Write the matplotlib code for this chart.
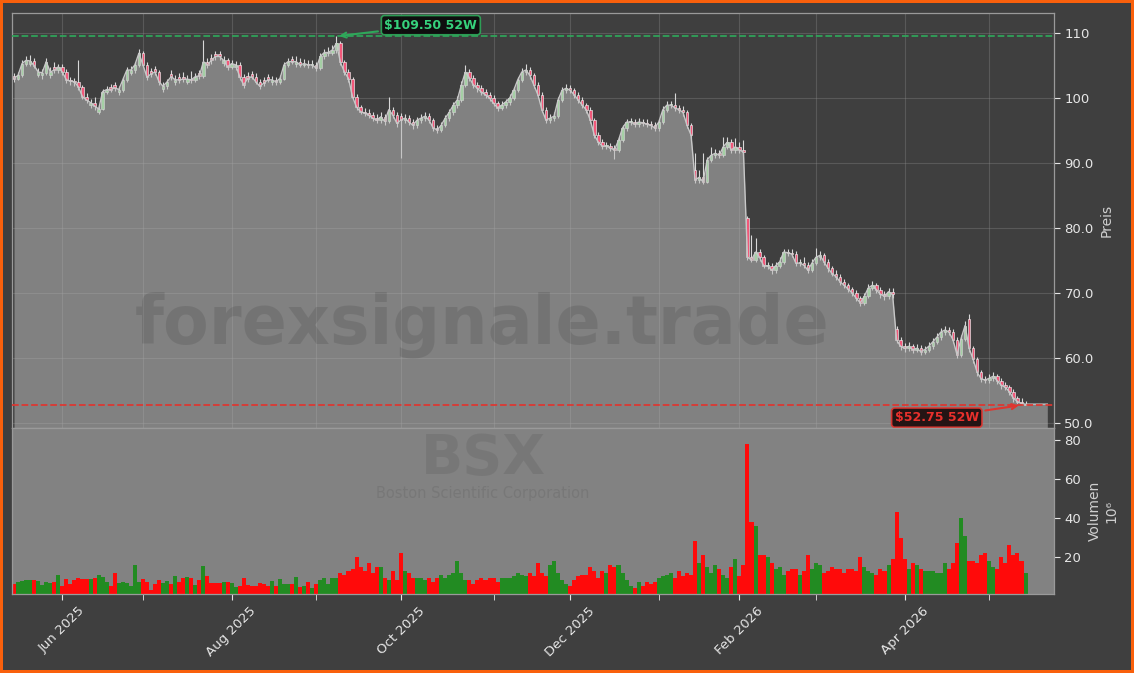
import numpy as np
import pandas as pd
import matplotlib
matplotlib.use("Agg")
import matplotlib.pyplot as plt

# ---------------- data ----------------
start_date = "2025-05-14"
end_date = "2026-05-14"
market_holidays = ["2025-05-26", "2025-06-19", "2025-07-04", "2025-09-01", "2025-11-27",
                   "2025-12-25", "2026-01-01", "2026-01-19", "2026-02-16", "2026-04-03"]

close = [
    103.0, 103.5, 105.3, 105.8, 105.7, 105.0, 104.0, 103.9, 105.6, 104.0,
    104.3, 104.8, 104.0, 102.8, 102.6, 102.5, 101.7, 100.2, 99.7, 99.3,
    98.8, 98.3, 101.0, 101.3, 101.3, 101.6, 101.3, 102.8, 104.3, 104.3,
    105.1, 106.9, 105.1, 103.2, 103.7, 104.0, 102.5, 101.8, 102.5, 103.3,
    102.8, 102.8, 102.9, 102.9, 102.8, 103.3, 103.4, 105.6, 105.1, 105.8,
    106.4, 106.4, 105.8, 104.8, 105.3, 105.1, 103.3, 102.0, 103.0, 103.3,
    102.5, 101.8, 102.3, 102.8, 102.8, 102.5, 103.0, 105.1, 105.6, 105.6,
    105.6, 105.1, 105.3, 105.1, 105.1, 104.6, 106.4, 107.0, 107.0, 107.4,
    108.4, 105.5, 104.0, 103.0, 100.2, 98.6, 97.9, 97.7, 97.4, 96.9,
    96.6, 97.1, 96.4, 98.2, 97.4, 96.1, 96.6, 96.9, 96.3, 95.8,
    96.6, 96.9, 97.2, 96.6, 95.4, 95.1, 95.8, 96.9, 97.8, 98.9,
    99.7, 102.0, 104.0, 103.1, 102.0, 101.5, 100.9, 100.5, 100.0, 99.2,
    98.5, 98.9, 99.4, 100.0, 101.2, 102.8, 104.0, 104.3, 103.5, 102.0,
    100.5, 98.2, 96.6, 96.9, 97.2, 99.7, 101.2, 101.5, 101.2, 100.5,
    99.7, 98.9, 98.2, 96.6, 94.3, 93.2, 92.6, 92.6, 92.3, 92.0,
    93.5, 95.4, 96.3, 96.3, 96.0, 96.3, 96.2, 96.0, 95.8, 95.4,
    96.3, 98.2, 98.9, 98.9, 98.5, 98.2, 97.8, 95.8, 94.3, 87.4,
    87.8, 87.1, 90.5, 91.2, 91.5, 91.2, 92.5, 93.2, 92.0, 92.5,
    92.0, 91.7, 75.5, 75.1, 76.3, 75.5, 74.2, 74.2, 73.5, 74.2,
    74.8, 76.3, 76.2, 76.0, 74.6, 74.6, 74.3, 73.5, 74.6, 75.5,
    75.8, 74.8, 73.8, 73.0, 72.5, 71.7, 71.2, 70.6, 70.0, 69.2,
    68.5, 69.5, 70.8, 71.2, 70.5, 69.8, 69.5, 70.2, 69.8, 62.8,
    61.8, 61.5, 61.8, 61.3, 61.5, 61.0, 61.3, 61.8, 62.5, 63.2,
    64.0, 64.3, 64.0, 62.8, 60.5, 63.0, 65.0, 61.5, 59.8, 57.8,
    56.8, 56.6, 56.9, 57.2, 56.5, 55.8, 55.5, 54.8, 53.8, 53.3,
    53.0, 52.9,
]

open_ = [
    103.4, 103.0, 103.5, 105.3, 105.3, 105.7, 103.6, 103.5, 103.9, 103.6,
    104.7, 104.3, 104.8, 104.0, 102.8, 102.6, 102.5, 101.7, 100.2, 98.9,
    99.3, 97.9, 98.3, 101.0, 101.7, 102.0, 100.9, 101.3, 102.8, 103.9,
    104.3, 105.1, 106.9, 105.1, 104.1, 104.4, 104.0, 101.4, 101.8, 103.7,
    102.4, 103.2, 103.3, 102.5, 102.9, 102.8, 103.8, 103.4, 105.6, 106.2,
    106.8, 106.8, 105.4, 105.8, 104.8, 104.7, 105.1, 103.3, 103.4, 103.7,
    103.3, 102.5, 102.7, 103.2, 102.4, 102.8, 102.5, 103.0, 105.1, 106.0,
    105.2, 105.6, 105.1, 105.3, 105.1, 105.1, 104.6, 106.4, 107.0, 107.0,
    107.4, 108.4, 105.5, 104.0, 103.0, 100.2, 98.6, 97.9, 97.7, 97.4,
    96.9, 96.6, 97.1, 96.4, 98.2, 97.4, 97.2, 96.6, 96.9, 96.3,
    95.8, 96.6, 96.9, 97.2, 96.6, 95.4, 95.1, 95.8, 96.9, 97.8,
    98.9, 99.7, 102.0, 104.0, 103.1, 102.0, 101.5, 100.9, 100.5, 100.0,
    99.2, 98.5, 98.9, 99.4, 100.0, 101.2, 102.8, 104.0, 104.3, 103.5,
    102.0, 100.5, 98.2, 96.6, 96.9, 97.2, 99.7, 101.2, 101.5, 101.2,
    100.5, 99.7, 98.9, 98.2, 96.6, 94.3, 93.2, 92.6, 92.6, 92.3,
    92.0, 93.5, 95.4, 96.3, 96.3, 96.0, 96.3, 96.2, 96.0, 95.8,
    95.4, 96.3, 98.2, 98.9, 98.9, 98.5, 98.2, 97.8, 95.8, 89.0,
    87.4, 87.8, 87.1, 90.5, 91.2, 91.5, 91.2, 92.5, 93.2, 92.0,
    92.5, 92.0, 81.5, 75.5, 75.1, 76.3, 75.5, 74.2, 74.2, 73.5,
    74.2, 74.8, 76.3, 76.2, 76.0, 74.6, 74.6, 74.3, 73.5, 74.6,
    75.5, 75.8, 74.8, 73.8, 73.0, 72.5, 71.7, 71.2, 70.6, 70.0,
    69.2, 68.5, 69.5, 70.8, 71.2, 70.5, 69.8, 69.5, 70.2, 64.5,
    62.8, 61.8, 61.5, 61.8, 61.3, 61.5, 61.0, 61.3, 61.8, 62.5,
    63.2, 64.0, 64.3, 64.0, 62.8, 60.5, 63.0, 66.0, 61.5, 59.8,
    57.8, 56.8, 56.6, 56.9, 57.2, 56.5, 55.8, 55.5, 54.8, 53.8,
    53.3, 52.8,
]

high = [
    103.9, 104.0, 105.8, 106.4, 106.6, 106.1, 104.6, 104.4, 106.2, 104.8,
    105.5, 105.3, 105.2, 104.4, 103.3, 103.1, 105.8, 102.0, 100.8, 99.9,
    100.1, 98.9, 101.4, 101.9, 102.2, 102.5, 101.8, 103.2, 104.7, 104.9,
    105.6, 107.5, 107.3, 105.5, 104.6, 104.9, 104.3, 102.5, 103.0, 104.3,
    103.5, 103.8, 104.0, 103.6, 104.2, 103.9, 104.3, 109.0, 106.2, 106.8,
    107.3, 107.2, 106.4, 106.2, 105.9, 105.7, 105.5, 103.7, 104.0, 104.2,
    103.8, 103.0, 103.2, 103.7, 103.4, 103.3, 103.6, 105.6, 106.2, 106.5,
    106.4, 106.2, 106.0, 105.9, 105.8, 105.6, 106.9, 107.6, 107.8, 108.2,
    109.5, 108.8, 105.9, 104.4, 103.3, 100.6, 99.0, 98.5, 98.3, 97.9,
    97.5, 97.8, 97.6, 100.2, 98.6, 97.8, 97.7, 97.5, 97.4, 96.8,
    97.1, 97.5, 97.8, 97.7, 97.0, 95.9, 96.3, 97.4, 98.3, 99.4,
    100.3, 102.6, 105.1, 104.5, 103.5, 102.5, 102.0, 101.4, 101.0, 100.4,
    99.6, 99.5, 99.9, 100.6, 101.7, 103.3, 104.6, 105.3, 104.8, 103.9,
    102.4, 100.9, 98.6, 97.5, 97.8, 100.2, 101.7, 102.1, 102.0, 101.6,
    100.9, 100.1, 99.3, 98.6, 97.0, 94.7, 93.7, 93.2, 93.1, 92.8,
    94.0, 95.9, 96.8, 96.9, 96.8, 96.9, 96.8, 96.7, 96.5, 96.3,
    96.8, 98.7, 99.5, 99.6, 100.8, 99.0, 98.7, 98.2, 96.2, 91.5,
    89.0, 91.5, 91.0, 92.5, 92.2, 92.0, 94.0, 94.0, 93.7, 93.8,
    93.2, 93.5, 81.9, 79.0, 78.5, 76.8, 75.9, 74.8, 74.6, 74.7,
    75.6, 76.8, 76.8, 76.7, 76.4, 75.3, 75.6, 74.7, 75.2, 76.9,
    76.5, 76.2, 75.2, 74.2, 73.5, 72.9, 72.2, 71.6, 71.0, 70.4,
    69.6, 70.0, 71.4, 71.8, 71.6, 70.9, 70.3, 70.8, 70.7, 65.0,
    63.2, 62.3, 62.4, 62.2, 62.1, 62.0, 61.9, 62.4, 63.1, 63.8,
    64.6, 65.0, 64.8, 64.4, 63.2, 63.6, 65.7, 66.8, 61.9, 60.2,
    58.2, 57.3, 57.5, 57.8, 57.6, 56.9, 56.3, 55.9, 55.2, 54.2,
    53.8, 53.4,
]

low = [
    102.5, 102.7, 103.2, 105.0, 104.9, 104.6, 103.2, 103.0, 103.6, 103.1,
    103.8, 103.9, 103.5, 102.3, 102.0, 101.9, 101.2, 99.8, 99.2, 98.5,
    98.2, 97.6, 98.1, 100.6, 100.9, 101.1, 100.5, 101.0, 102.5, 103.5,
    103.9, 104.8, 104.7, 102.8, 103.2, 103.5, 102.0, 101.0, 101.4, 102.8,
    102.0, 102.3, 102.4, 102.1, 102.3, 102.4, 103.0, 103.1, 104.6, 105.3,
    105.9, 105.9, 105.0, 104.3, 104.4, 104.3, 102.8, 101.6, 102.5, 102.9,
    102.1, 101.4, 101.9, 102.4, 102.0, 102.0, 102.1, 102.7, 104.8, 105.2,
    104.8, 104.7, 104.8, 104.6, 104.6, 104.1, 104.3, 106.0, 106.5, 106.6,
    107.0, 105.1, 103.6, 102.5, 99.8, 98.2, 97.5, 97.2, 96.9, 96.4,
    96.1, 96.2, 95.9, 96.1, 96.9, 95.6, 90.7, 96.2, 95.8, 95.3,
    95.4, 96.2, 96.5, 96.1, 95.0, 94.6, 94.8, 95.5, 96.5, 97.4,
    98.5, 99.4, 101.7, 102.6, 101.5, 101.0, 100.4, 100.0, 99.5, 98.7,
    98.0, 98.1, 98.5, 99.0, 99.7, 100.9, 102.5, 103.6, 103.0, 101.6,
    100.0, 97.8, 96.1, 96.2, 96.5, 96.9, 99.4, 100.8, 100.7, 100.0,
    99.2, 98.4, 97.7, 96.1, 93.9, 92.8, 92.1, 92.1, 91.8, 90.6,
    91.7, 93.2, 95.0, 95.8, 95.5, 95.6, 95.7, 95.5, 95.3, 94.9,
    95.0, 96.0, 97.8, 98.4, 98.0, 97.7, 97.3, 95.4, 93.9, 87.0,
    87.0, 86.8, 86.9, 90.1, 90.8, 90.7, 90.9, 92.1, 91.6, 91.6,
    91.5, 91.2, 75.1, 74.8, 74.8, 75.0, 73.8, 73.7, 73.0, 73.1,
    73.9, 74.5, 75.7, 75.5, 74.2, 74.1, 73.8, 73.1, 73.2, 74.3,
    75.1, 74.3, 73.3, 72.6, 72.0, 71.3, 70.7, 70.2, 69.6, 68.8,
    68.0, 68.2, 69.2, 70.4, 70.0, 69.3, 69.0, 69.1, 69.3, 62.3,
    61.3, 61.0, 61.1, 60.8, 60.9, 60.5, 60.6, 60.9, 61.4, 62.1,
    62.8, 63.6, 63.5, 62.3, 60.0, 60.2, 62.6, 61.0, 59.3, 57.3,
    56.3, 56.1, 56.2, 56.5, 56.0, 55.3, 55.0, 54.3, 53.3, 52.9,
    52.75, 52.8,
]

volume_m = [
    6.2, 7.0, 7.5, 8.0, 8.0, 8.0, 7.5, 5.8, 7.0, 6.6,
    7.0, 10.8, 5.1, 8.7, 6.2, 8.2, 9.1, 8.7, 8.7, 8.7,
    9.1, 10.8, 9.6, 7.0, 5.3, 11.6, 6.4, 7.0, 6.4, 5.3,
    15.9, 7.0, 8.7, 7.0, 3.1, 6.2, 8.2, 6.4, 7.5, 6.2,
    10.3, 7.3, 9.1, 9.9, 9.1, 5.6, 8.2, 15.4, 10.3, 6.4,
    6.8, 6.8, 7.0, 7.0, 6.4, 4.7, 5.1, 9.1, 5.6, 5.3,
    5.1, 6.4, 6.2, 5.3, 7.5, 5.3, 8.5, 6.2, 6.2, 6.2,
    9.6, 4.4, 5.0, 7.0, 4.0, 6.0, 8.0, 9.0, 6.0, 9.0,
    9.0, 12.0, 11.0, 13.0, 14.0, 20.0, 15.0, 13.0, 17.0, 12.0,
    15.0, 15.0, 9.0, 8.0, 13.0, 8.0, 22.0, 13.0, 12.0, 9.0,
    9.0, 9.0, 8.0, 9.0, 7.0, 9.0, 11.0, 9.0, 11.0, 12.0,
    18.0, 12.0, 8.0, 8.0, 6.0, 8.0, 9.0, 8.0, 9.0, 9.0,
    7.0, 9.0, 9.0, 9.0, 10.0, 12.0, 11.0, 10.0, 12.0, 10.0,
    17.0, 12.0, 10.0, 16.0, 18.0, 12.0, 8.0, 6.0, 5.0, 8.0,
    10.0, 11.0, 11.0, 15.0, 13.0, 9.0, 13.0, 12.0, 16.0, 15.0,
    16.0, 12.0, 8.0, 5.0, 4.0, 7.0, 5.0, 7.0, 6.0, 7.0,
    9.0, 10.0, 11.0, 12.0, 9.0, 13.0, 10.0, 12.0, 11.0, 28.0,
    17.0, 21.0, 15.0, 12.0, 16.0, 14.0, 11.0, 9.0, 15.0, 19.0,
    10.0, 16.0, 78.0, 38.0, 36.0, 21.0, 21.0, 20.0, 17.0, 14.0,
    15.0, 11.0, 13.0, 14.0, 14.0, 11.0, 13.0, 21.0, 14.0, 17.0,
    16.0, 12.0, 13.0, 15.0, 14.0, 14.0, 12.0, 14.0, 14.0, 13.0,
    20.0, 15.0, 13.0, 12.0, 11.0, 14.0, 13.0, 16.0, 19.0, 43.0,
    30.0, 19.0, 14.0, 17.0, 16.0, 14.0, 13.0, 13.0, 13.0, 12.0,
    12.0, 17.0, 14.0, 17.0, 27.0, 40.0, 31.0, 18.0, 18.0, 17.0,
    21.0, 22.0, 18.0, 15.0, 14.0, 20.0, 17.0, 26.0, 21.0, 22.0,
    18.0, 12.0,
]

price_ticks = [50, 60, 70, 80, 90, 100, 110]
price_tick_labels = ["50.0", "60.0", "70.0", "80.0", "90.0", "100", "110"]
volume_ticks = [20, 40, 60, 80]
ticker_symbol = "BSX"
company_name = "Boston Scientific Corporation"
watermark_text = "forexsignale.trade"

# ---------------- style / layout ----------------
BG = "#3f3f3f"
BORDER = "#f9600c"
PRICE_YLIM = (49.23, 113.08)
VOL_YLIM = (1.0, 86.2)
XLIM = (-0.37, 258.06)
FILL_PAD = 5.4

dates = pd.bdate_range(start_date, end_date, freq="C", holidays=market_holidays)
n = min(len(dates), len(close))
dates = dates[:n]
o = np.array(open_[:n]); h = np.array(high[:n]); l = np.array(low[:n])
c = np.array(close[:n]); v = np.array(volume_m[:n])
x = np.arange(n)
up = c >= o

fig = plt.figure(figsize=(11.34, 6.73), dpi=100, facecolor=BG,
                 edgecolor=BORDER, linewidth=4)
ax = fig.add_axes([0.01102, 0.36404, 0.91843, 0.61664])
axv = fig.add_axes([0.01102, 0.11738, 0.91843, 0.24666], sharex=ax)
ax.set_facecolor(BG)
axv.set_facecolor("#828282")

# month ticks
month_idx = [i for i in range(1, n) if dates[i].month != dates[i - 1].month]
major_idx = [i for i in month_idx if dates[i].month % 2 == 0]
minor_idx = [i for i in month_idx if dates[i].month % 2 == 1]
major_labels = [dates[i].strftime("%b %Y") for i in major_idx]

# candles
ax.vlines(x, l, h, color="#d8d8d8", lw=0.8, zorder=2)
body_bottom = np.minimum(o, c)
body_h = np.maximum(np.abs(c - o), 0.15)
ax.bar(x, body_h, bottom=body_bottom, width=0.62,
       color=np.where(up, "#90ee90", "#f2587a"), edgecolor="#f0f0f0",
       linewidth=0.45, zorder=2.1)

# area under closes
x_fill = np.append(x, x[-1] + FILL_PAD)
y_fill = np.append(c, c[-1])
ax.fill_between(x_fill, y_fill, PRICE_YLIM[0], color="#b8b8b8", alpha=0.55,
                lw=0, zorder=3)
ax.plot(x_fill, y_fill, color="#c8c8c8", lw=1.0, zorder=3.5)

# 52W lines & annotations
hi_i = int(np.argmax(h)); hi_v = h[hi_i]
lo_i = int(np.argmin(l)); lo_v = l[lo_i]
ax.axhline(hi_v, color="#2ea85a", ls="--", lw=1.3, alpha=0.95, zorder=4)
ax.axhline(lo_v, color="#e0352f", ls="--", lw=1.3, alpha=0.95, zorder=4)
ax.annotate(r"\$%.2f 52W" % hi_v, xy=(hi_i, hi_v), xytext=(68, 8),
            textcoords="offset points", ha="center", va="center",
            fontsize=9, fontweight="bold", color="#36d27c",
            bbox=dict(boxstyle="round,pad=0.25", fc="#0b0b0b", ec="#2ea85a", lw=1.2, alpha=0.92),
            arrowprops=dict(arrowstyle="->", color="#2ea85a", lw=1.5), zorder=6)
ax.annotate(r"\$%.2f 52W" % lo_v, xy=(lo_i, lo_v), xytext=(-61, -9),
            textcoords="offset points", ha="center", va="center",
            fontsize=9, fontweight="bold", color="#e8302c",
            bbox=dict(boxstyle="round,pad=0.25", fc="#1c0b0b", ec="#e0352f", lw=1.2, alpha=0.92),
            arrowprops=dict(arrowstyle="->", color="#e0352f", lw=1.5), zorder=6)

# volume
axv.bar(x, v, width=1.0, color=np.where(up, "#228b22", "#ff0a0a"), lw=0, zorder=2)

# axes setup
ax.set_xlim(*XLIM)
ax.set_ylim(*PRICE_YLIM)
axv.set_ylim(*VOL_YLIM)
ax.set_xticks(major_idx)
ax.set_xticks(minor_idx, minor=True)
axv.set_xticklabels(major_labels)
ax.grid(True, which="both", axis="x", color="#8a8a8a", alpha=0.35, lw=0.8, zorder=0.5)
ax.grid(True, which="major", axis="y", color="#8a8a8a", alpha=0.35, lw=0.8, zorder=0.5)
ax.set_axisbelow(True)
ax.tick_params(axis="x", which="both", bottom=False, labelbottom=False)

ax.yaxis.tick_right()
ax.yaxis.set_label_position("right")
ax.set_yticks(price_ticks)
ax.set_yticklabels(price_tick_labels)
ax.tick_params(axis="y", colors="#e6e6e6", labelsize=9.5, length=4)
ax.set_ylabel("Preis", color="#cfcfcf", fontsize=10)

axv.yaxis.tick_right()
axv.yaxis.set_label_position("right")
axv.set_yticks(volume_ticks)
axv.tick_params(axis="y", colors="#e6e6e6", labelsize=9.5, length=4)
axv.tick_params(axis="x", which="both", colors="#e6e6e6", labelsize=9.5,
                length=4, labelrotation=45)
axv.set_ylabel("Volumen\n10\u2076", color="#cfcfcf", fontsize=10, labelpad=5)

for a in (ax, axv):
    for s in a.spines.values():
        s.set_color("#9a9a9a")
        s.set_linewidth(0.9)

# watermarks
fig.text(0.425, 0.517, watermark_text, fontsize=48, fontweight="bold",
         color="#000000", alpha=0.1, ha="center", va="center", zorder=10)
fig.text(0.426, 0.318, ticker_symbol, fontsize=40, fontweight="bold",
         color="#000000", alpha=0.08, ha="center", va="center", zorder=10)
fig.text(0.426, 0.2665, company_name, fontsize=10.5,
         color="#000000", alpha=0.08, ha="center", va="center", zorder=10)

fig.savefig("out.png", dpi=100, facecolor=fig.get_facecolor(),
            edgecolor=fig.get_edgecolor())
